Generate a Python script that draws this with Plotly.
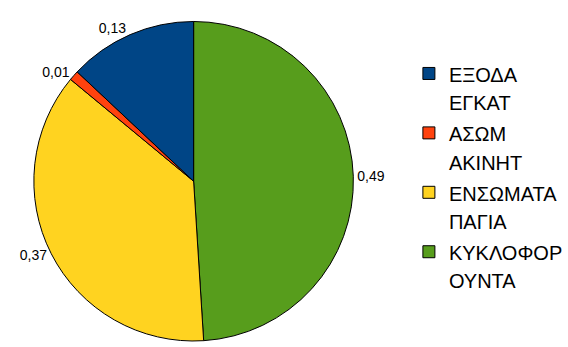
import plotly.graph_objects as go

labels = ["ΚΥΚΛΟΦΟΡ<br>ΟΥΝΤΑ", "ΕΝΣΩΜΑΤΑ<br>ΠΑΓΙΑ", "ΑΣΩΜ<br>ΑΚΙΝΗΤ", "ΕΞΟΔΑ<br>ΕΓΚΑΤ"]
values = [0.49, 0.37, 0.01, 0.13]
colors = ["#579d1c", "#ffd320", "#ff420e", "#004586"]

# legend text drawn at 20px while the legend line pitch follows a slightly larger font
legend_labels = ["<br>".join(f'<span style="font-size:20px">{part}</span>' for part in lab.split("<br>"))
                 for lab in labels]

fig = go.Figure(go.Pie(
    labels=legend_labels,
    values=values,
    sort=False,
    direction="clockwise",
    rotation=0,
    marker=dict(colors=colors, line=dict(color="black", width=1)),
    textposition="outside",
    texttemplate="%{value:.2f}",
    textfont=dict(family="Liberation Sans, Arial", size=14, color="black"),
    domain=dict(x=[0.0572, 0.6294], y=[0.0, 0.937]),
    showlegend=True,
))

fig.update_layout(
    width=568, height=347,
    margin=dict(l=0, r=0, t=0, b=0),
    paper_bgcolor="white",
    plot_bgcolor="white",
    separators=", ",
    font=dict(family="Liberation Sans, Arial", color="black"),
    legend=dict(
        x=0.725, y=0.845, xanchor="left", yanchor="top",
        traceorder="reversed",
        valign="top",
        font=dict(size=21.7, family="Liberation Sans, Arial", color="black"),
        itemwidth=30,
    ),
)

fig.write_html("out.html", config={"displayModeBar": False},
               post_script="document.body.style.margin='0';")
